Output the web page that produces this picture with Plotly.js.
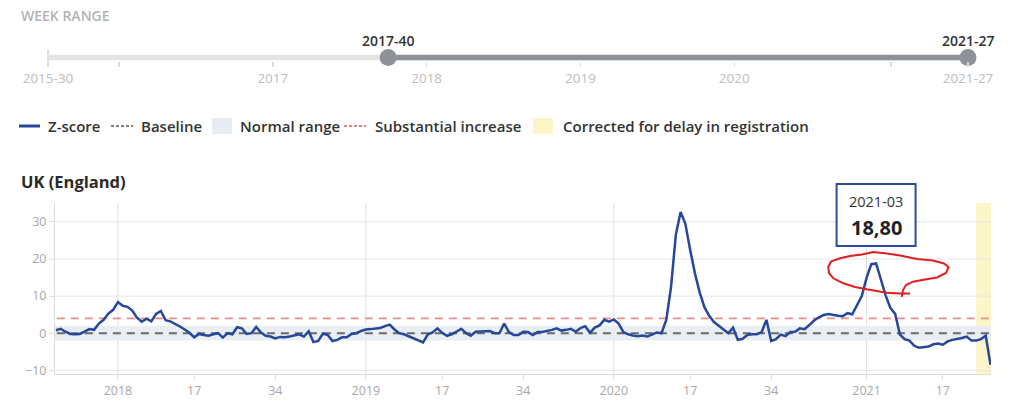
<!DOCTYPE html>
<html><head><meta charset="utf-8">
<script src="https://cdn.plot.ly/plotly-3.0.1.min.js"></script>
<style>html,body{margin:0;padding:0;background:#fff;} #chart{width:1024px;height:420px;}</style>
</head><body><div id="chart"></div>
<script>
// ---------- data ----------
const weeksPerYear = {2015:53, 2016:52, 2017:52, 2018:52, 2019:52, 2020:53, 2021:52};
function weekLabel(y, w) { return y + '-' + String(w).padStart(2, '0'); }
function weekRange(fy, fw, ty, tw) {
  const out = []; let y = fy, w = fw;
  while (y < ty || (y === ty && w <= tw)) {
    out.push(weekLabel(y, w));
    w++; if (w > weeksPerYear[y]) { w = 1; y++; }
  }
  return out;
}
const sliderWeeks = weekRange(2015, 30, 2021, 27);
const selStart = '2017-40';
const selEnd = '2021-27';
const weeks = weekRange(2017, 40, 2021, 27);

const zscore = [0.8,1.2,0.4,-0.2,-0.3,-0.2,0.4,1.1,0.9,2.6,
 3.6,5.3,6.3,8.4,7.4,7.1,6.1,4.2,3.1,3.9,
 3.2,5.2,6.0,3.5,3.2,2.6,1.8,1.0,0.1,-1.1,
 -0.2,-0.5,-0.7,-0.3,0.0,-1.2,0.0,-0.3,1.6,1.3,
 -0.2,0.0,1.7,0.2,-0.7,-0.9,-1.4,-1.0,-1.1,-0.9,
 -0.7,-0.3,-0.9,0.5,-2.4,-2.1,-0.1,-0.5,-2.1,-1.8,
 -1.1,-1.1,-0.2,0.0,0.6,1.0,1.1,1.2,1.4,1.9,
 2.3,1.0,0.0,-0.3,-0.9,-1.4,-2.0,-2.5,-0.3,0.2,
 1.3,0.1,-0.7,-0.3,0.4,1.2,0.0,-0.7,0.4,0.4,
 0.6,0.6,0.0,0.0,2.6,0.3,-0.5,-0.5,0.4,0.3,
 -0.5,0.3,0.3,0.5,0.9,1.3,0.7,0.9,1.2,0.4,
 1.4,1.9,0.1,1.5,2.1,3.6,3.1,3.7,2.6,0.3,
 -0.3,-0.6,-0.8,-0.6,-0.9,-0.4,0.2,0.0,3.6,12.5,
 26.5,32.7,29.5,22.5,16.2,11.0,7.0,4.7,3.0,2.0,
 1.0,0.0,1.5,-1.8,-1.5,-0.5,-0.3,-0.3,0.3,3.6,
 -2.1,-1.6,-0.4,-0.8,0.3,0.4,1.3,1.1,2.2,3.4,
 4.3,4.9,5.2,4.9,4.7,4.6,5.4,5.1,7.6,10.0,
 14.9,18.6,18.8,14.6,10.2,6.8,5.2,-0.4,-1.6,-2.0,
 -3.4,-3.9,-3.8,-3.6,-3.0,-2.8,-3.1,-2.2,-1.8,-1.6,
 -1.3,-0.9,-2.0,-2.0,-1.6,-0.7,-8.5];

const baseline = 0;
const normalLow = -2;
const normalHigh = 2;
const substantialIncrease = 4;
const correctedFrom = '2021-24';
const highlightWeek = '2021-03';

const xTickWeeks = ['2018-01','2018-17','2018-34','2019-01','2019-17','2019-34','2020-01','2020-17','2020-34','2021-01','2021-17'];
const xTickText  = ['2018','17','34','2019','17','34','2020','17','34','2021','17'];
const yTicks = [-10, 0, 10, 20, 30];
const yearStarts = ['2018-01','2019-01','2020-01','2021-01'];
const sliderTickWeeks = ['2015-30','2016-01','2017-01','2018-01','2019-01','2020-01','2021-01','2021-27'];
const sliderTickText  = ['2015-30','','2017','2018','2019','2020','','2021-27'];

const legendItems = ['Z-score','Baseline','Normal range','Substantial increase','Corrected for delay in registration'];
const chartTitle = 'UK (England)';
const rangeTitle = 'WEEK RANGE';

// ---------- styling / geometry ----------
const C = {line:'#27479a', base:'#6a6a6a', band:'#e7ecf2', red:'#ee8c8c', yellow:'#fbf5c8',
           grid:'#e6e6e6', axis:'#dcdcdc', tick:'#a8a8a8', dark:'#333333', track:'#e3e3e3', knob:'#8f9199'};
const L = 20, T = 30, W = 1024 - 20 - 33, H = 420 - 30 - 46;
const px = p => (p - L) / W;
const py = p => (T + H - p) / H;
const wi = w => weeks.indexOf(w);
const si = w => sliderWeeks.indexOf(w);
const FONT = 'Open Sans, Liberation Sans, sans-serif';

const traces = [
  {type:'scatter', mode:'lines', x:weeks, y:zscore, xaxis:'x', yaxis:'y',
   line:{color:C.line, width:2.5}, hoverinfo:'skip', showlegend:false},
  {type:'scatter', mode:'markers', x:[si(selStart), si(selEnd)], y:[0.5, 0.5], xaxis:'x2', yaxis:'y2',
   marker:{size:17, color:C.knob}, cliponaxis:false, hoverinfo:'skip', showlegend:false}
];

const shapes = [];
// corrected region
shapes.push({type:'rect', xref:'x', yref:'y domain', x0:wi(correctedFrom), x1:weeks.length, y0:0, y1:1,
  fillcolor:C.yellow, line:{width:0}, layer:'below'});
// horizontal gridlines
yTicks.forEach(v => shapes.push({type:'line', xref:'x domain', yref:'y', x0:0, x1:1, y0:v, y1:v,
  line:{color:C.grid, width:1}, layer:'below'}));
// year gridlines
yearStarts.forEach(w => shapes.push({type:'line', xref:'x', yref:'y domain', x0:wi(w), x1:wi(w), y0:0, y1:1,
  line:{color:'#e0e0e0', width:1}, layer:'below'}));
// normal range
shapes.push({type:'rect', xref:'x domain', yref:'y', x0:0, x1:1, y0:normalLow, y1:normalHigh,
  fillcolor:C.band, opacity:0.9, line:{width:0}, layer:'below'});
// baseline & substantial increase
shapes.push({type:'line', xref:'x domain', yref:'y', x0:0.002, x1:1, y0:baseline, y1:baseline,
  line:{color:C.base, width:2, dash:'8px,6px'}, layer:'below'});
shapes.push({type:'line', xref:'x domain', yref:'y', x0:0.002, x1:1, y0:substantialIncrease, y1:substantialIncrease,
  line:{color:C.red, width:1.6, dash:'8px,6px'}, layer:'below'});

// slider track
shapes.push({type:'rect', xref:'x2', yref:'y2', x0:0, x1:sliderWeeks.length - 1, y0:0, y1:1,
  fillcolor:C.track, line:{width:0}, layer:'below'});
shapes.push({type:'rect', xref:'x2', yref:'y2', x0:si(selStart), x1:si(selEnd), y0:0, y1:1,
  fillcolor:C.knob, line:{width:0}, layer:'below'});
shapes.push({type:'line', xref:'paper', yref:'paper', x0:px(48), x1:px(48), y0:py(50), y1:py(61),
  line:{color:'#dcdcdc', width:2}, layer:'below'});

// legend symbols
const ly = py(126);
shapes.push({type:'line', xref:'paper', yref:'paper', x0:px(19), x1:px(40), y0:ly, y1:ly, line:{color:C.line, width:3}});
shapes.push({type:'line', xref:'paper', yref:'paper', x0:px(111), x1:px(133), y0:ly, y1:ly, line:{color:'#555', width:1.5, dash:'3px,2px'}});
shapes.push({type:'rect', xref:'paper', yref:'paper', x0:px(212), x1:px(232), y0:py(134), y1:py(118), fillcolor:C.band, line:{width:0}});
shapes.push({type:'line', xref:'paper', yref:'paper', x0:px(344), x1:px(366), y0:ly, y1:ly, line:{color:'#e05b5b', width:1.5, dash:'3px,2px'}});
shapes.push({type:'rect', xref:'paper', yref:'paper', x0:px(533), x1:px(553), y0:py(134), y1:py(118), fillcolor:C.yellow, line:{width:0}});

// highlight box
shapes.push({type:'rect', xref:'x', xsizemode:'pixel', xanchor:wi(highlightWeek), x0:-39.5, x1:39.5,
  yref:'paper', y0:py(246), y1:py(184), fillcolor:'#ffffff', line:{color:'#2b4c9b', width:2}, layer:'above'});

// hand-drawn red scribble
const scribble = [[901.7,297],[903,290],[906,285],[913,281.7],[925,279.5],[937,277.5],[946,273],[948.5,267],
  [944,263.5],[933,260.5],[917,259],[900,255.5],[886.7,253.5],[873.3,252],[862,254.5],[850,256],[840,258.3],
  [831,261.5],[828.3,267],[829,273],[833.3,278.3],[843.3,283.3],[855,287],[866.7,289.3],[886.7,292.7],[900,293.5],[910,293.5]];
let path = '';
scribble.forEach((p, k) => { path += (k ? ' L ' : 'M ') + px(p[0]).toFixed(5) + ',' + py(p[1]).toFixed(5); });
shapes.push({type:'path', xref:'paper', yref:'paper', path:path, line:{color:'#e01f1f', width:2}, layer:'above'});

const annotations = [];
const txt = (text, x, y, opts) => Object.assign({text:text, x:x, y:y, xref:'paper', yref:'paper', showarrow:false,
  xanchor:'left', yanchor:'middle', font:{family:FONT, size:15, color:C.dark, weight:600}}, opts || {});
annotations.push(txt(rangeTitle, px(19), py(16), {font:{family:FONT, size:14, color:'#b3b3b3', weight:600}}));
annotations.push(txt(chartTitle, px(19), py(181), {font:{family:FONT, size:16.5, color:'#2a2a2a', weight:700}}));
const legendX = [46, 139, 238, 373, 561];
legendItems.forEach((t, k) => annotations.push(txt(t, px(legendX[k]), ly)));
// slider labels above knobs
[selStart, selEnd].forEach(w => annotations.push({text:w, x:si(w), xref:'x2', y:py(40), yref:'paper',
  showarrow:false, xanchor:'center', yanchor:'middle', font:{family:FONT, size:14, color:C.dark, weight:600}}));
// highlight text
const hv = zscore[wi(highlightWeek)].toFixed(2).replace('.', ',');
annotations.push({text:highlightWeek, x:wi(highlightWeek), xref:'x', y:py(201), yref:'paper', showarrow:false,
  xanchor:'center', yanchor:'middle', font:{family:FONT, size:14.5, color:'#333'}});
annotations.push({text:hv, x:wi(highlightWeek), xref:'x', y:py(227), yref:'paper', showarrow:false,
  xanchor:'center', yanchor:'middle', font:{family:FONT, size:20, color:'#222', weight:700}});

const layout = {
  width:1024, height:420, margin:{l:L, r:33, t:T, b:46},
  paper_bgcolor:'#fff', plot_bgcolor:'#fff', showlegend:false,
  font:{family:FONT, color:C.tick},
  xaxis:{type:'category', domain:[px(55), 1], anchor:'y', range:[-0.2, weeks.length - 0.9],
    tickvals:xTickWeeks, ticktext:xTickText, showgrid:false, zeroline:false,
    showline:true, linecolor:C.axis, linewidth:1, ticks:'outside', ticklen:5, tickcolor:C.axis,
    tickfont:{family:FONT, size:12.5, color:C.tick}, fixedrange:true},
  yaxis:{domain:[0, py(203)], anchor:'x', range:[-11, 35.1], tickvals:yTicks,
    showgrid:false, zeroline:false, showline:true, linecolor:C.axis,
    ticks:'outside', ticklen:5, tickcolor:C.axis, tickfont:{family:FONT, size:12.5, color:C.tick}, fixedrange:true},
  xaxis2:{domain:[px(48), px(968)], anchor:'y2', range:[0, sliderWeeks.length - 1],
    tickvals:sliderTickWeeks.map(si), ticktext:sliderTickText, showgrid:false, zeroline:false, showline:false,
    ticks:'outside', ticklen:5, tickcolor:'#dcdcdc', tickwidth:1.5,
    tickfont:{family:FONT, size:13.5, color:'#bdbdbd'}, fixedrange:true},
  yaxis2:{domain:[py(60.5), py(54.5)], anchor:'x2', range:[0, 1], visible:false, fixedrange:true},
  shapes:shapes, annotations:annotations
};
Plotly.newPlot('chart', traces, layout, {displayModeBar:false, staticPlot:true});
</script>
</body></html>
